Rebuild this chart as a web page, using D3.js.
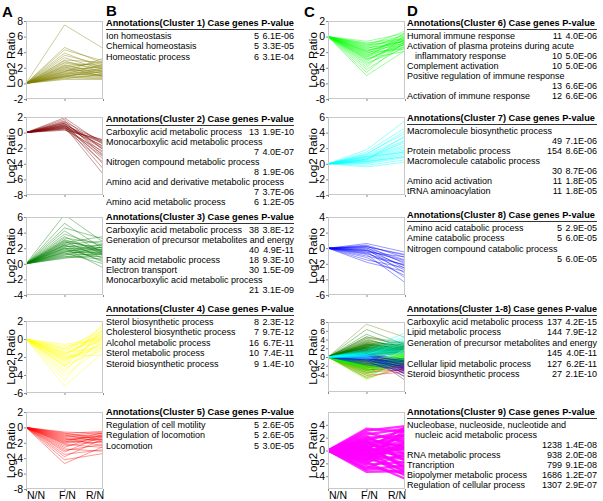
<!DOCTYPE html>
<html><head><meta charset="utf-8">
<script src="https://cdn.jsdelivr.net/npm/d3@7"></script>
<style>body{margin:0;background:#fff} svg{display:block} text{font-family:Arial,"Liberation Sans",sans-serif}</style>
</head><body><svg id="c" width="603" height="501"></svg>
<script>
const stages = ["N/N","F/N","R/N"];

// Cluster profiles: Log2 ratio at F/N and R/N (N/N = 0)
const c1F = [7.5,4.6,4.3,3.9,3.6,3.3,3.0,2.9,2.7,2.6,2.4,2.3,2.2,2.0,1.9,1.8,1.7,1.6,1.5,1.4,1.3,1.2,1.1,1.0,1.0,0.9,0.8,0.8,0.7,0.6,0.5,1.5,2.1,1.2,0.9];
const c1R = [4.5,2.6,2.9,2.0,2.4,1.8,2.7,1.5,2.2,1.9,1.2,2.5,1.6,2.8,1.3,2.1,1.0,1.7,2.3,0.9,1.5,1.1,2.0,0.8,1.4,1.0,0.7,1.9,0.6,1.2,0.5,3.2,0.9,2.4,1.6];
const c2F = [1.9,1.7,1.5,1.4,1.3,1.2,1.1,1.0,0.9,0.9,0.8,0.7,0.7,0.6,0.5,0.5,0.4,0.3,1.0,1.2,0.8,0.6];
const c2R = [-1.5,-2.2,-3.0,-1.2,-2.6,-4.0,-1.8,-3.4,-1.0,-2.1,-5.3,-1.4,-2.8,-1.7,-3.8,-1.1,-2.4,-0.9,-4.6,-2.0,-1.3,-3.1];
const c3F = [6.3,5.2,4.6,4.2,3.8,3.5,3.3,3.1,2.9,2.8,2.6,2.5,2.4,2.3,2.2,2.1,2.0,1.9,1.8,1.7,1.6,1.5,1.4,1.3,1.2,1.1,1.0,0.9,0.8,0.7,2.7,2.0,1.5,3.0,2.4];
const c3R = [2.8,1.9,3.2,1.4,2.3,1.2,2.6,1.7,0.7,2.0,1.5,2.9,1.1,1.8,2.4,0.4,1.6,2.1,1.3,0.8,1.9,1.4,0.0,1.7,1.2,2.2,0.6,1.5,1.0,1.3,3.5,-0.5,2.5,1.6,0.2];
const c4F = [-5.2,-4.6,-4.1,-3.7,-3.4,-3.1,-2.9,-2.7,-2.5,-2.3,-2.2,-2.0,-1.9,-1.8,-1.6,-1.5,-1.4,-1.2,-1.1,-1.0,-0.8,-0.6,-2.4,-1.7,-3.0,-2.1];
const c4R = [-1.5,0.5,-0.8,1.2,-0.2,0.8,-1.2,0.3,1.6,-0.5,0.0,1.0,-1.8,0.6,0.2,-0.9,1.3,-0.3,0.4,0.9,-0.1,0.1,-0.6,0.7,1.8,-1.0];
const c5F = [-4.7,-4.2,-3.8,-3.5,-3.2,-3.0,-2.8,-2.6,-2.4,-2.2,-2.0,-1.9,-1.8,-1.6,-1.5,-1.4,-1.3,-1.2,-1.1,-1.0,-0.9,-0.8,-0.7,-0.6,-1.7,-2.1];
const c5R = [-2.5,-3.4,-1.5,-2.9,-1.1,-2.2,-3.1,-0.9,-1.8,-2.6,-1.3,-0.7,-2.0,-1.0,-1.6,-2.4,-0.8,-1.4,-0.6,-1.9,-1.2,-0.5,-1.7,-0.8,-1.1,-1.5];
const c6F = [-5.0,-4.6,-4.2,-3.9,-3.6,-3.4,-3.2,-3.0,-2.8,-2.7,-2.5,-2.4,-2.3,-2.2,-2.1,-2.0,-1.9,-1.8,-1.7,-1.6,-1.5,-1.4,-1.3,-1.2,-1.1,-1.0,-0.9,-0.8,-0.6,-2.6,-1.9,-2.9];
const c6R = [-1.8,-0.6,-1.2,0.2,-0.9,-1.5,-0.3,-0.7,-1.9,0.5,-1.0,-0.4,-1.3,0.0,-0.8,-1.6,-0.2,-0.5,-1.1,0.3,-0.6,-0.9,-0.1,0.7,-0.4,-0.7,0.1,-0.3,0.4,-1.4,-0.5,-1.0];
const c7F = [1.8,1.5,1.3,1.1,1.0,0.9,0.8,0.7,0.6,0.5,0.4,0.3,0.2,0.1,0.0,-0.2,-0.4,0.6,0.9,1.2,0.3,0.5];
const c7R = [5.5,4.6,3.9,3.4,3.0,2.7,2.4,2.2,2.0,1.8,1.6,1.4,1.2,1.0,0.8,0.5,0.2,2.9,1.5,4.2,0.9,3.6];
const c8F = [0.6,0.4,0.3,0.2,0.1,0.0,-0.1,-0.2,-0.3,-0.4,-0.5,-0.6,-0.8,-1.0,-1.2,-1.5,-1.8,-0.3,0.2,-0.7];
const c8R = [-0.5,-1.2,-2.0,-0.9,-2.6,-1.5,-3.2,-1.8,-2.3,-3.8,-1.1,-2.8,-4.4,-2.1,-3.5,-2.5,-3.0,-1.6,-0.8,-2.2];
const c9F = [3.4,3.1,2.8,2.5,2.2,2.0,1.8,1.6,1.4,1.2,1.0,0.9,0.7,0.6,0.5,0.3,0.2,0.1,0.0,-0.1,-0.2,-0.3,-0.5,-0.6,-0.7,-0.9,-1.0,-1.2,-1.4,-1.6,-1.8,-2.0,-2.2,-2.5,-2.8,-3.0,-3.3,1.5,-1.5,0.8,-0.8];
const c9R = [2.9,3.8,1.3,3.4,-0.6,2.3,0.5,3.1,-1.6,1.8,0.0,2.6,-2.6,1.0,2.1,-1.0,3.6,0.3,-2.1,1.6,-3.4,0.8,-0.3,2.5,-3.9,-1.3,0.4,-3.0,1.4,-0.8,-4.4,1.2,-1.8,-3.6,-0.4,-2.3,-3.2,-1.4,3.2,-2.8,0.6];

const clusterF = [c1F,c2F,c3F,c4F,c5F,c6F,c7F,c8F,c9F];
const clusterR = [c1R,c2R,c3R,c4R,c5R,c6R,c7R,c8R,c9R];
const clusterColors = ["#808000","#800000","#008000","#ffff00","#ff0000","#00ff00","#00ffff","#0000ff","#ff00ff"];

// Y tick labels for each plot
const ticksA1 = [8,6,4,2,0,-2];
const ticksA2 = [2,0,-2,-4,-6,-8];
const ticksA3 = [6,4,2,0,-2,-4];
const ticksA4 = [2,0,-2,-4,-6];
const ticksA5 = [2,0,-2,-4,-6,-8];
const ticksC1 = [2,0,-2,-4,-6,-8];
const ticksC2 = [6,4,2,0,-2,-4];
const ticksC3 = [4,2,0,-2,-4,-6];
const ticksC4 = [8,6,4,2,0,-2,-4];
const ticksC5 = [4,2,0,-2,-4];

// Annotation tables: [term, case genes, P-value]
const headers = ["Annotations(Cluster 1)","Annotations(Cluster 2)","Annotations(Cluster 3)","Annotations(Cluster 4)","Annotations(Cluster 5)",
                 "Annotations(Cluster 6)","Annotations(Cluster 7)","Annotations(Cluster 8)","Annotations(Cluster 1-8)","Annotations(Cluster 9)"];
const headerTail = "Case genes P-value";
const tab1 = [["Ion homeostasis","5","6.1E-06"],["Chemical homeostasis","5","3.3E-05"],["Homeostatic process","6","3.1E-04"]];
const tab2 = [["Carboxylic acid metabolic process","13","1.9E-10"],["Monocarboxylic acid metabolic process","",""],["","7","4.0E-07"],
  ["Nitrogen compound metabolic process","",""],["","8","1.9E-06"],["Amino acid and derivative metabolic process","",""],["","7","3.7E-06"],
  ["Amino acid metabolic process","6","1.2E-05"]];
const tab3 = [["Carboxylic acid metabolic process","38","3.8E-12"],["Generation of precursor metabolites and energy","",""],["","40","4.9E-11"],
  ["Fatty acid metabolic process","18","9.3E-10"],["Electron transport","30","1.5E-09"],["Monocarboxylic acid metabolic process","",""],["","21","3.1E-09"]];
const tab4 = [["Sterol biosynthetic process","8","2.3E-12"],["Cholesterol biosynthetic process","7","9.7E-12"],["Alcohol metabolic process","16","6.7E-11"],
  ["Sterol metabolic process","10","7.4E-11"],["Steroid biosynthetic process","9","1.4E-10"]];
const tab5 = [["Regulation of cell motility","5","2.6E-05"],["Regulation of locomotion","5","2.6E-05"],["Locomotion","5","3.0E-05"]];
const tab6 = [["Humoral immune response","11","4.0E-06"],["Activation of plasma proteins during acute","",""],["inflammatory response","10","5.0E-06"],
  ["Complement activation","10","5.0E-06"],["Positive regulation of immune response","",""],["","13","6.6E-06"],["Activation of immune response","12","6.6E-06"]];
const tab7 = [["Macromolecule biosynthetic process","",""],["","49","7.1E-06"],["Protein metabolic process","154","8.6E-06"],
  ["Macromolecule catabolic process","",""],["","30","8.7E-06"],["Amino acid activation","11","1.8E-05"],["tRNA aminoacylation","11","1.8E-05"]];
const tab8 = [["Amino acid catabolic process","5","2.9E-05"],["Amine catabolic process","5","6.0E-05"],["Nitrogen compound catabolic process","",""],["","5","6.0E-05"]];
const tab18 = [["Carboxylic acid metabolic process","137","4.2E-15"],["Lipid metabolic process","144","7.9E-12"],["Generation of precursor metabolites and energy","",""],
  ["","145","4.0E-11"],["Cellular lipid metabolic process","127","6.2E-11"],["Steroid biosynthetic process","27","2.1E-10"]];
const tab9 = [["Nucleobase, nucleoside, nucleotide and","",""],["nucleic acid metabolic process","",""],["","1238","1.4E-08"],
  ["RNA metabolic process","938","2.0E-08"],["Trancription","799","9.1E-08"],["Biopolymer metabolic process","1686","1.2E-07"],
  ["Regulation of cellular process","1307","2.9E-07"]];
const indentedTerms = ["inflammatory response","nucleic acid metabolic process"];

const svg = d3.select("#c");

// ---------- plots ----------
const plots = [
  {x0:26, top:21, bottom:99, dom:[-2,8], ticks:ticksA1, cl:[0]},
  {x0:26, top:117, bottom:195, dom:[-8,2], ticks:ticksA2, cl:[1]},
  {x0:26, top:217, bottom:295, dom:[-4,6], ticks:ticksA3, cl:[2]},
  {x0:26, top:321, bottom:393, dom:[-6,2], ticks:ticksA4, cl:[3]},
  {x0:26, top:412, bottom:489, dom:[-8,2], ticks:ticksA5, cl:[4], xlab:true},
  {x0:328, top:21, bottom:99, dom:[-8,2], ticks:ticksC1, cl:[5]},
  {x0:328, top:117, bottom:195, dom:[-4,6], ticks:ticksC2, cl:[6]},
  {x0:328, top:217, bottom:295, dom:[-6,4], ticks:ticksC3, cl:[7]},
  {x0:328, top:322, bottom:392, dom:[-8,8], ticks:ticksC4, cl:[0,1,2,3,4,5,7,6], tfs:8.5},
  {x0:328, top:412, bottom:489, dom:[-6,6], ticks:ticksC5, cl:[8], xlab:true}
];
const W = 77;
const defs = svg.append("defs");
const labelAnchor = ["start","middle","end"];
const labelShift = [1, 3, 1];
plots.forEach((p, pi) => {
  const x = d3.scalePoint().domain(stages).range([p.x0, p.x0 + W]);
  const y = d3.scaleLinear().domain(p.dom).range([p.bottom, p.top]);
  const g = svg.append("g");
  defs.append("clipPath").attr("id", "clip" + pi).append("rect")
    .attr("x", p.x0).attr("y", p.top).attr("width", W).attr("height", p.bottom - p.top);
  const lg = g.append("g").attr("clip-path", `url(#clip${pi})`);
  const line = d3.line().x((d, i) => x(stages[i])).y(d => y(d));
  p.cl.forEach(ci => {
    const rows = clusterF[ci].map((f, k) => [0, f, clusterR[ci][k]]);
    const dense = ci === 8;
    lg.selectAll(null).data(rows).enter().append("path")
      .attr("d", line).attr("fill", "none")
      .attr("stroke", clusterColors[ci])
      .attr("stroke-width", dense ? 2.4 : 0.9)
      .attr("stroke-opacity", dense ? 0.8 : 0.45);
  });
  g.append("rect").attr("x", p.x0 + 0.5).attr("y", p.top + 0.5).attr("width", W - 1).attr("height", p.bottom - p.top - 1)
    .attr("fill", "none").attr("stroke", "#c8c8c8").attr("stroke-width", 1);
  const ya = g.append("g").attr("transform", `translate(${p.x0},0)`)
    .call(d3.axisLeft(y).tickValues(p.ticks).tickSize(2).tickPadding(1).tickFormat(d => String(d)));
  ya.select(".domain").remove();
  ya.selectAll("line").attr("stroke", "#888");
  ya.selectAll("text").attr("font-size", p.tfs || 10.5).attr("fill", "#000");
  const xa = g.append("g").attr("transform", `translate(0,${p.bottom})`)
    .call(d3.axisBottom(x).tickSize(2).tickFormat(() => ""));
  xa.select(".domain").remove();
  xa.selectAll("line").attr("stroke", "#888");
  if (p.xlab) {
    g.selectAll(null).data(stages).enter().append("text")
      .attr("x", (d, i) => x(d) + labelShift[i]).attr("y", 499)
      .attr("text-anchor", (d, i) => labelAnchor[i]).attr("font-size", 10.5).text(d => d);
  }
  g.append("text")
    .attr("transform", `translate(${p.x0 - 11},${(p.top + p.bottom) / 2}) rotate(-90)`)
    .attr("text-anchor", "middle").attr("font-size", 11.5).text("Log2 Ratio");
});

// ---------- panel letters ----------
[["A",2,17],["B",106,16],["C",304,17],["D",407,16]].forEach(([t,x,y]) =>
  svg.append("text").attr("x",x).attr("y",y).attr("font-size",15).attr("font-weight","bold").text(t));

// ---------- tables ----------
const tables = [
  {x:106, r:294, hy:26, rows:tab1, h:0},
  {x:106, r:294, hy:122, rows:tab2, h:1},
  {x:106, r:294, hy:220, rows:tab3, h:2},
  {x:106, r:294, hy:312, rows:tab4, h:3},
  {x:106, r:294, hy:415, rows:tab5, h:4},
  {x:407, r:597, hy:26, rows:tab6, h:5},
  {x:407, r:597, hy:121, rows:tab7, h:6},
  {x:407, r:597, hy:218, rows:tab8, h:7},
  {x:407, r:597, hy:312, rows:tab18, h:8},
  {x:407, r:597, hy:415, rows:tab9, h:9}
];
const FS = 9;
tables.forEach(t => {
  const g = svg.append("g").attr("font-size", FS);
  const ht = g.append("text").attr("x", t.x).attr("y", t.hy).attr("font-weight", "bold").attr("font-size", 9.2)
    .text(headers[t.h] + " " + headerTail);
  if (ht.node().getComputedTextLength() > t.r - t.x) ht.attr("textLength", t.r - t.x).attr("lengthAdjust", "spacingAndGlyphs");
  g.append("line").attr("x1", t.x).attr("x2", t.r).attr("y1", t.hy + 3.5).attr("y2", t.hy + 3.5)
    .attr("stroke", "#000").attr("stroke-width", 0.8);
  const cntX = t.r - 35;
  const step = t.rows.length > 6 ? 10 : 10.4;
  t.rows.forEach((r, i) => {
    const y = t.hy + 13 + i * step;
    const ind = indentedTerms.includes(r[0]) ? 8 : 0;
    let cw = 0;
    if (r[1]) {
      const ct = g.append("text").attr("x", cntX).attr("y", y).attr("text-anchor", "end").text(r[1]);
      cw = ct.node().getComputedTextLength();
    }
    if (r[2]) g.append("text").attr("x", t.r).attr("y", y).attr("text-anchor", "end").text(r[2]);
    if (r[0]) {
      const tx = g.append("text").attr("x", t.x + ind).attr("y", y).text(r[0]);
      const maxW = (r[1] ? cntX - cw - 1 : t.r) - t.x - ind;
      if (tx.node().getComputedTextLength() > maxW) tx.attr("textLength", maxW).attr("lengthAdjust", "spacingAndGlyphs");
    }
  });
});
</script></body></html>
